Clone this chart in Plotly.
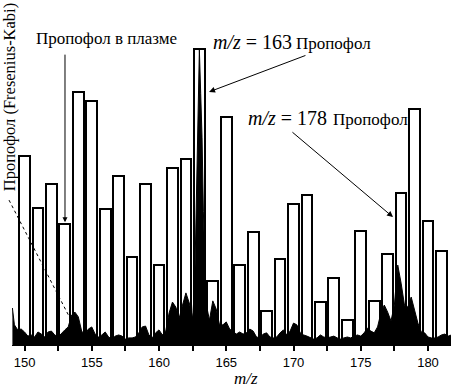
import plotly.graph_objects as go

# Bar (reference library spectrum) m/z and relative intensities (%)
bar_mz = list(range(150, 182))
bar_int = [63.9, 46.3, 54.4, 40.9, 85.5, 82.4, 45.9, 57.1, 29.7, 54.4,
           27.0, 59.8, 62.8, 100.0, 21.6, 77.0, 27.0, 38.2, 11.5, 29.1,
           47.6, 50.7, 14.5, 22.6, 8.4, 38.5, 14.9, 30.7, 51.4, 79.7,
           41.9, 31.8]

# Measured (plasma) spectrum profile
spec_mz = [149.1, 149.25, 149.5, 149.75, 150.0, 150.25, 150.5, 150.75,
           151.0, 151.25, 151.5, 151.75, 152.0, 152.25, 152.5, 152.75,
           153.0, 153.25, 153.5, 153.75, 154.0, 154.25, 154.5, 154.75,
           155.0, 155.25, 155.5, 155.75, 156.0, 156.25, 156.5, 156.75,
           157.0, 157.25, 157.5, 157.75, 158.0, 158.25, 158.5, 158.75,
           159.0, 159.25, 159.5, 159.75, 160.0, 160.25, 160.5, 160.75,
           161.0, 161.25, 161.5, 161.75, 162.0, 162.25, 162.5, 162.65,
           162.75, 162.85, 163.0, 163.1, 163.2, 163.3, 163.4, 163.5,
           163.75, 164.0, 164.25, 164.5, 164.75,
           165.0, 165.25, 165.5, 165.75, 166.0, 166.25, 166.5, 166.75,
           167.0, 167.25, 167.5, 167.75, 168.0, 168.25, 168.5, 168.75,
           169.0, 169.25, 169.5, 169.75, 170.0, 170.25, 170.5, 170.75,
           171.0, 171.25, 171.5, 171.75, 172.0, 172.25, 172.5, 172.75,
           173.0, 173.25, 173.5, 173.75, 174.0, 174.25, 174.5, 174.75,
           175.0, 175.25, 175.5, 175.75, 176.0, 176.25, 176.5, 176.75,
           177.0, 177.25, 177.5, 177.75, 178.0, 178.25, 178.5, 178.75,
           179.0, 179.25, 179.5, 179.75, 180.0, 180.25, 180.5, 180.75,
           181.0, 181.25, 181.5, 181.75]
spec_int = [12.5, 6.8, 5.1, 5.4, 4.4, 3.0, 3.4, 2.7,
            4.4, 3.7, 2.7, 4.4, 4.7, 3.4, 2.7, 4.1,
            5.1, 6.1, 10.1, 11.1, 9.5, 4.7, 3.4, 5.4,
            6.1, 3.7, 2.7, 3.4, 4.4, 2.7, 2.0, 3.0,
            3.4, 3.0, 2.0, 2.4, 2.4, 2.7, 4.1, 6.1,
            6.4, 3.4, 2.4, 4.1, 5.1, 3.4, 4.7, 10.8,
            14.5, 12.8, 9.1, 13.5, 17.6, 14.2, 9.1, 20.0,
            45.0, 75.0, 99.7, 85.0, 70.0, 45.0, 25.0, 14.0,
            8.4, 14.9, 12.2, 6.8, 6.8,
            7.8, 5.4, 4.4, 3.7, 4.4, 3.7, 4.1, 5.4,
            4.7, 2.7, 2.4, 3.7, 4.1, 2.7, 2.4, 2.7,
            4.1, 5.1, 3.4, 4.7, 7.4, 6.8, 4.1, 3.4,
            3.0, 2.4, 2.0, 2.4, 3.4, 2.7, 2.4, 2.7,
            3.0, 2.4, 2.0, 2.4, 2.7, 2.4, 3.0, 3.4,
            3.0, 4.1, 5.7, 4.7, 4.1, 6.1, 10.8, 13.5,
            11.1, 8.1, 13.5, 27.0, 20.9, 13.5, 12.8, 16.2,
            11.8, 7.4, 4.4, 4.1, 2.7, 2.4, 2.4, 2.7,
            3.4, 3.7, 3.0, 3.4]

tick_vals = [150, 155, 160, 165, 170, 175, 180]
tick_text = ["150", "155", "160", "165", "170", "175", "180"]

SERIF = "Liberation Serif"
SANS = "Liberation Sans"

fig = go.Figure()
fig.add_trace(go.Scatter(x=spec_mz, y=spec_int, mode="lines", fill="tozeroy",
                         fillcolor="black", line=dict(color="black", width=1),
                         showlegend=False, hoverinfo="skip"))
fig.add_trace(go.Bar(x=bar_mz, y=bar_int, width=0.8,
                     marker=dict(color="rgba(0,0,0,0)",
                                 line=dict(color="black", width=2)),
                     showlegend=False))

ann = []
# Propofol in plasma
ann.append(dict(x=156.13, y=103.7, xref="x", yref="y", text="Пропофол в плазме",
                showarrow=False, font=dict(family=SERIF, size=17, color="black")))
ann.append(dict(x=153.01, y=41.5, ax=153.01, ay=98.6, xref="x", yref="y",
                axref="x", ayref="y", text="", showarrow=True, arrowhead=2,
                arrowsize=1, arrowwidth=1, arrowcolor="black"))
# m/z = 163
ann.append(dict(x=166.92, y=102.4, xref="x", yref="y", text="<i>m/z</i> = 163",
                showarrow=False, font=dict(family=SERIF, size=20, color="black")))
ann.append(dict(x=173.01, y=101.7, xref="x", yref="y", text="Пропофол",
                showarrow=False, font=dict(family=SERIF, size=17, color="black")))
ann.append(dict(x=163.72, y=85.5, ax=171.0, ay=98.0, xref="x", yref="y",
                axref="x", ayref="y", text="", showarrow=True, arrowhead=2,
                arrowsize=1.2, arrowwidth=1, arrowcolor="black"))
# m/z = 178
ann.append(dict(x=169.55, y=76.7, xref="x", yref="y", text="<i>m/z</i> = 178",
                showarrow=False, font=dict(family=SERIF, size=20, color="black")))
ann.append(dict(x=175.72, y=76.35, xref="x", yref="y", text="Пропофол",
                showarrow=False, font=dict(family=SERIF, size=17, color="black")))
ann.append(dict(x=177.40, y=43.2, ax=169.81, ay=72.3, xref="x", yref="y",
                axref="x", ayref="y", text="", showarrow=True, arrowhead=2,
                arrowsize=1.2, arrowwidth=1, arrowcolor="black"))
# Rotated label
ann.append(dict(x=-0.0057, y=0.998, xref="paper", yref="paper",
                text="Пропофол (Fresenius-Kabi)", textangle=-90,
                xanchor="center", yanchor="top", showarrow=False,
                font=dict(family=SERIF, size=16.5, color="black")))
# x-axis title
ann.append(dict(x=0.533, y=-0.096, xref="paper", yref="paper", text="<i>m/z</i>",
                showarrow=False, yanchor="middle",
                font=dict(family=SERIF, size=17, color="black")))

fig.update_layout(
    width=451, height=388,
    margin=dict(l=12, r=0, t=0, b=43),
    paper_bgcolor="white", plot_bgcolor="white",
    annotations=ann,
    shapes=[dict(type="line", xref="paper", yref="paper",
                 x0=-0.0068, y0=0.420, x1=0.1321, y1=0.078,
                 line=dict(color="black", width=1, dash="dot"))],
    xaxis=dict(range=[149.07, 181.71], tickvals=tick_vals, ticktext=tick_text,
               ticks="outside", ticklen=5, tickwidth=1.5, tickcolor="black",
               minor=dict(dtick=2.5, tick0=150, ticks="outside", ticklen=5,
                          tickwidth=1.5, tickcolor="black"),
               showgrid=False, zeroline=False, showline=True, linecolor="black",
               linewidth=1,
               tickfont=dict(family=SANS, size=13, color="black")),
    yaxis=dict(range=[0, 116.55], visible=False, showgrid=False),
    bargap=0,
)

fig.write_html("out.html", config={"displayModeBar": False},
               post_script="document.body.style.margin='0px';"
                           "document.body.style.overflow='hidden';")
